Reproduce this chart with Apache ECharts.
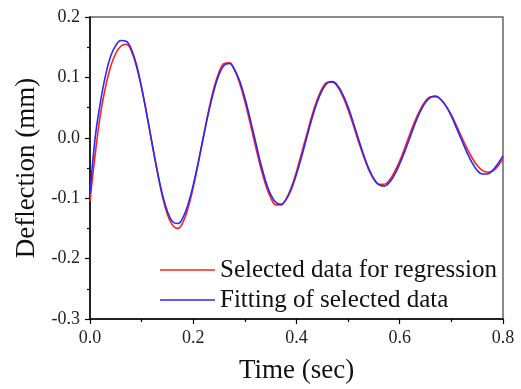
<!DOCTYPE html>
<html>
<head>
<meta charset="utf-8">
<script src="https://cdn.jsdelivr.net/npm/echarts@6/dist/echarts.min.js"></script>
<style>
  html, body { margin: 0; padding: 0; background: #fff; }
  #chart { width: 521px; height: 389px; }
</style>
</head>
<body>
<div id="chart"></div>
<script>
// time (sec)
const TIME = [
  0.00, 0.01, 0.02, 0.03, 0.04, 0.05, 0.06, 0.07, 0.08, 0.09,
  0.10, 0.11, 0.12, 0.13, 0.14, 0.15, 0.16, 0.17, 0.18, 0.19,
  0.20, 0.21, 0.22, 0.23, 0.24, 0.25, 0.26, 0.27, 0.28, 0.29,
  0.30, 0.31, 0.32, 0.33, 0.34, 0.35, 0.36, 0.37, 0.38, 0.39,
  0.40, 0.41, 0.42, 0.43, 0.44, 0.45, 0.46, 0.47, 0.48, 0.49,
  0.50, 0.51, 0.52, 0.53, 0.54, 0.55, 0.56, 0.57, 0.58, 0.59,
  0.60, 0.61, 0.62, 0.63, 0.64, 0.65, 0.66, 0.67, 0.68, 0.69,
  0.70, 0.71, 0.72, 0.73, 0.74, 0.75, 0.76, 0.77, 0.78, 0.79,
  0.80
];

// deflection (mm), measured
const SELECTED = [
  -0.105, -0.028, 0.038, 0.084, 0.118, 0.140, 0.152, 0.155, 0.144, 0.118,
  0.082, 0.038, -0.009, -0.055, -0.096, -0.127, -0.145, -0.150, -0.140, -0.116,
  -0.082, -0.041, 0.003, 0.046, 0.082, 0.109, 0.123, 0.124, 0.112, 0.090,
  0.060, 0.025, -0.012, -0.047, -0.077, -0.099, -0.111, -0.111, -0.101, -0.082,
  -0.056, -0.025, 0.006, 0.037, 0.063, 0.082, 0.092, 0.092, 0.084, 0.068,
  0.046, 0.021, -0.006, -0.031, -0.053, -0.069, -0.077, -0.077, -0.070, -0.056,
  -0.038, -0.016, 0.007, 0.029, 0.047, 0.061, 0.068, 0.068, 0.063, 0.052,
  0.038, 0.020, 0.001, -0.017, -0.033, -0.046, -0.054, -0.057, -0.055, -0.047,
  -0.034
];

// deflection (mm), fitted
const FITTED = [
  -0.093, 0.000, 0.058, 0.103, 0.135, 0.153, 0.161, 0.160, 0.147, 0.121,
  0.083, 0.039, -0.008, -0.053, -0.093, -0.122, -0.139, -0.142, -0.132, -0.110,
  -0.078, -0.039, 0.003, 0.043, 0.078, 0.105, 0.120, 0.123, 0.113, 0.094,
  0.066, 0.032, -0.004, -0.040, -0.071, -0.094, -0.107, -0.110, -0.102, -0.085,
  -0.060, -0.031, 0.001, 0.032, 0.059, 0.079, 0.091, 0.093, 0.086, 0.071,
  0.051, 0.025, -0.002, -0.028, -0.051, -0.068, -0.078, -0.080, -0.074, -0.061,
  -0.043, -0.022, 0.001, 0.024, 0.044, 0.059, 0.067, 0.069, 0.063, 0.052,
  0.036, 0.016, -0.004, -0.024, -0.041, -0.054, -0.060, -0.060, -0.054, -0.043,
  -0.030
];

const SERIES_NAMES = ["Selected data for regression", "Fitting of selected data"];

const FONT = "'Liberation Serif', 'Times New Roman', serif";

const pairs = (ys) => TIME.map((t, i) => [t, ys[i]]);

const chart = echarts.init(document.getElementById("chart"), null, { renderer: "canvas" });

const axisCommon = {
  axisLine: { onZero: false, lineStyle: { color: "#000", width: 1.5 } },
  axisTick: { show: true, inside: false, length: 5, lineStyle: { color: "#000", width: 1.2 } },
  minorTick: { show: true, splitNumber: 2, length: 3, lineStyle: { color: "#000", width: 1.2 } },
  splitLine: { show: false },
  axisLabel: {
    color: "#222",
    fontFamily: FONT,
    fontSize: 18,
    formatter: (v) => v.toFixed(1),
  },
  nameLocation: "middle",
  nameTextStyle: { color: "#111", fontFamily: FONT, fontSize: 27 },
};

chart.setOption({
  animation: false,
  grid: {
    left: 90,
    right: 18,
    top: 17,
    bottom: 67,
    show: true,
    borderColor: "#666",
    borderWidth: 1.5,
  },
  legend: {
    orient: "vertical",
    left: 160,
    top: 257,
    padding: 0,
    icon: "rect",
    itemWidth: 55,
    itemHeight: 1.6,
    itemGap: 4,
    textStyle: { color: "#111", fontFamily: FONT, fontSize: 25, lineHeight: 26 },
    data: SERIES_NAMES,
  },
  xAxis: {
    ...axisCommon,
    type: "value",
    min: 0,
    max: 0.8,
    interval: 0.2,
    name: "Time (sec)",
    nameGap: 38,
    axisLabel: { ...axisCommon.axisLabel, margin: 10 },
  },
  yAxis: {
    ...axisCommon,
    type: "value",
    min: -0.3,
    max: 0.2,
    interval: 0.1,
    name: "Deflection (mm)",
    nameGap: 48,
    axisLabel: { ...axisCommon.axisLabel, margin: 10 },
  },
  series: [
    {
      name: SERIES_NAMES[0],
      type: "line",
      smooth: 0.4,
      symbol: "none",
      color: "#ff2020",
      lineStyle: { color: "#ff2020", width: 1.6 },
      data: pairs(SELECTED),
    },
    {
      name: SERIES_NAMES[1],
      type: "line",
      smooth: 0.4,
      symbol: "none",
      color: "#2828ff",
      lineStyle: { color: "#2828ff", width: 1.6 },
      data: pairs(FITTED),
    },
  ],
});
</script>
</body>
</html>
